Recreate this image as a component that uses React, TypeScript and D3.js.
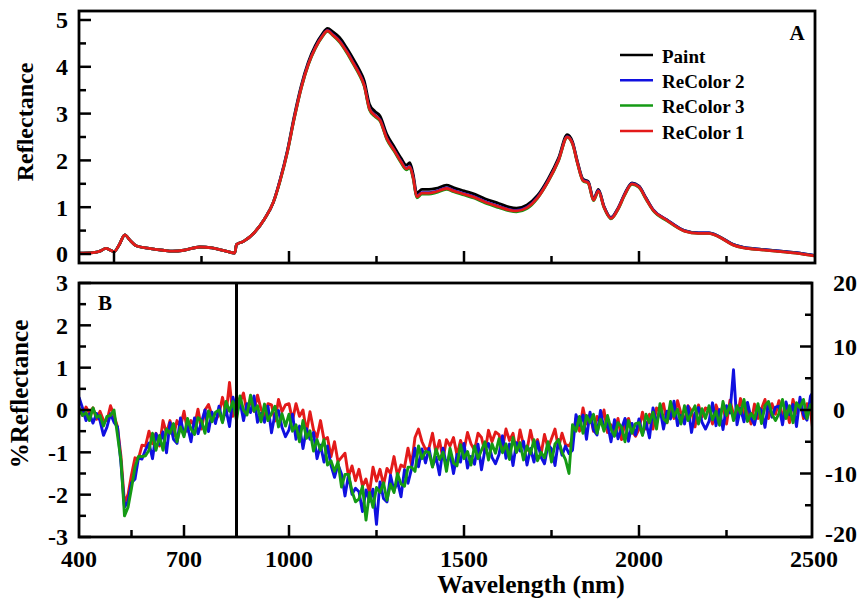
import React from "react";
import * as d3 from "d3";

// ---------- Panel A data ----------
const wavelengthsA = [400,440,460,477,490,500,515,531,545,565,600,640,668,700,745,780,820,845,850,870,900,930,955,975,995,1015,1035,1055,1075,1095,1110,1125,1145,1165,1185,1200,1215,1230,1245,1260,1280,1300,1320,1335,1345,1355,1365,1380,1400,1420,1450,1470,1500,1530,1560,1600,1630,1650,1680,1710,1740,1770,1795,1810,1825,1840,1855,1870,1884,1900,1920,1940,1960,1980,2000,2020,2040,2080,2130,2170,2200,2230,2270,2300,2350,2420,2460,2500];

const paintA = [0.02,0.03,0.06,0.12,0.08,0.05,0.2,0.41,0.3,0.17,0.12,0.08,0.06,0.08,0.15,0.13,0.06,0.02,0.2,0.27,0.45,0.75,1.1,1.6,2.2,2.95,3.6,4.1,4.45,4.7,4.82,4.75,4.62,4.4,4.15,3.95,3.7,3.2,3.05,2.95,2.55,2.3,2.05,1.9,1.95,1.7,1.3,1.38,1.38,1.4,1.47,1.42,1.35,1.28,1.18,1.08,1.0,0.98,1.05,1.25,1.6,2.05,2.55,2.4,1.95,1.6,1.55,1.18,1.38,1.02,0.78,0.98,1.3,1.52,1.45,1.2,0.95,0.73,0.5,0.45,0.45,0.37,0.2,0.14,0.1,0.05,0.02,-0.03];

const recolor2A = [0.02,0.03,0.06,0.12,0.08,0.05,0.2,0.41,0.3,0.17,0.12,0.08,0.06,0.08,0.15,0.13,0.06,0.02,0.2,0.27,0.45,0.75,1.1,1.59,2.18,2.91,3.56,4.06,4.41,4.66,4.78,4.69,4.55,4.33,4.07,3.87,3.61,3.11,2.97,2.87,2.47,2.23,1.98,1.83,1.87,1.63,1.23,1.31,1.31,1.34,1.41,1.36,1.29,1.22,1.12,1.02,0.95,0.93,1.0,1.21,1.56,2.01,2.51,2.37,1.93,1.58,1.53,1.16,1.36,1.01,0.77,0.97,1.29,1.51,1.44,1.19,0.95,0.73,0.5,0.45,0.45,0.37,0.2,0.14,0.1,0.05,0.02,-0.03];

const recolor3A = [0.02,0.03,0.06,0.12,0.08,0.05,0.2,0.41,0.3,0.17,0.12,0.08,0.06,0.08,0.15,0.13,0.06,0.02,0.2,0.27,0.45,0.75,1.1,1.57,2.16,2.89,3.54,4.04,4.39,4.64,4.76,4.67,4.52,4.3,4.04,3.84,3.58,3.08,2.94,2.84,2.44,2.2,1.95,1.8,1.84,1.6,1.2,1.28,1.28,1.31,1.38,1.33,1.26,1.19,1.09,0.99,0.92,0.9,0.97,1.19,1.54,1.99,2.49,2.35,1.91,1.56,1.51,1.14,1.34,0.99,0.75,0.95,1.27,1.49,1.42,1.17,0.93,0.71,0.49,0.44,0.44,0.36,0.19,0.13,0.09,0.04,0.01,-0.04];

const recolor1A = [0.02,0.03,0.06,0.12,0.08,0.05,0.2,0.41,0.3,0.17,0.12,0.08,0.06,0.08,0.15,0.13,0.06,0.02,0.2,0.27,0.45,0.75,1.1,1.58,2.17,2.9,3.55,4.05,4.4,4.65,4.77,4.68,4.54,4.32,4.06,3.86,3.6,3.1,2.96,2.86,2.46,2.22,1.97,1.82,1.86,1.62,1.22,1.3,1.3,1.33,1.4,1.35,1.28,1.21,1.11,1.01,0.94,0.92,0.99,1.2,1.55,2.0,2.5,2.36,1.92,1.57,1.52,1.15,1.35,1.0,0.76,0.96,1.28,1.5,1.43,1.18,0.94,0.72,0.49,0.44,0.44,0.36,0.19,0.13,0.09,0.04,0.01,-0.04];

// ---------- Panel B data (%Reflectance difference), 10 nm grid ----------
const wavelengthsB = d3.range(400, 2501, 10);

const recolor1B = [
  0.05,-0.13,0.07,-0.08,0.05,-0.22,-0.03,-0.25,-0.25,0.1,-0.13,-0.4,-1.1,-2.2,-2.0,-1.53,-1.13,-1.15,-0.83,-0.85,
  -0.5,-0.8,-0.55,-0.85,-0.25,-0.55,-0.25,-0.62,-0.25,-0.4,-0.03,-0.5,-0.25,-0.38,0.02,-0.45,0.0,0.13,-0.13,-0.25,
  -0.1,0.3,-0.1,0.65,-0.15,0.3,0.18,0.4,-0.07,0.25,-0.03,0.35,0.02,-0.16,0.15,0.12,-0.26,0.25,-0.04,0.12,
  0.15,-0.25,0.15,-0.15,0.0,-0.52,-0.04,-0.47,-0.65,-0.25,-0.7,-0.65,-1.1,-0.75,-1.22,-1.12,-1.02,-1.57,-1.32,-1.67,
  -1.4,-1.8,-1.63,-1.95,-1.35,-1.68,-1.4,-1.77,-1.38,-1.5,-1.1,-1.55,-1.3,-1.35,-0.9,-1.3,-0.65,-0.45,-0.75,-0.93,
  -0.9,-0.55,-1.02,-0.72,-1.15,-0.7,-0.85,-0.65,-1.07,-0.72,-0.95,-0.53,-0.8,-0.95,-0.55,-0.65,-1.0,-0.48,-0.75,-0.52,
  -0.58,-0.91,-0.45,-0.72,-0.55,-1.0,-0.47,-0.83,-0.95,-0.48,-0.85,-0.7,-1.05,-0.58,-0.9,-0.68,-0.45,-0.9,-0.55,-0.82,
  -0.85,-0.7,-0.2,-0.5,0.05,-0.33,-0.1,-0.5,-0.15,-0.32,0.0,-0.53,-0.35,-0.52,-0.2,-0.7,-0.3,-0.2,-0.5,-0.62,
  -0.45,-0.05,-0.45,-0.1,-0.45,0.05,-0.05,0.15,-0.3,0.05,-0.2,0.22,-0.08,-0.25,0.1,-0.02,-0.4,0.12,-0.17,0.05,
  0.0,-0.33,0.12,-0.11,0.1,-0.33,0.23,-0.1,-0.2,0.27,-0.1,0.03,-0.33,0.14,-0.2,0.03,0.25,-0.2,0.15,-0.1,
  0.22,-0.15,0.05,-0.3,0.25,-0.08,0.2,-0.2,0.15,-0.03,-0.7,
];

const recolor2B = [
  0.3,0.05,-0.25,-0.09,-0.31,-0.08,-0.25,-0.6,-0.4,-0.09,-0.29,-0.4,-1.28,-2.3,-2.16,-1.72,-1.63,-1.13,-1.16,-0.94,
  -0.78,-1.15,-0.56,-0.81,-0.52,-1.01,-0.3,-0.69,-0.79,-0.19,-0.59,-0.38,-0.75,-0.19,-0.56,-0.29,0.0,-0.51,-0.05,-0.32,
  0.09,-0.28,0.01,-0.39,0.3,-0.12,0.21,-0.25,0.15,-0.06,0.33,-0.29,-0.08,-0.29,0.09,-0.54,-0.09,-0.01,-0.41,-0.63,
  -0.47,-0.1,-0.69,-0.38,-0.91,-0.44,-0.69,-0.53,-1.15,-0.83,-1.23,-0.85,-1.31,-1.59,-1.29,-1.51,-2.03,-1.53,-1.99,-1.85,
  -1.93,-2.4,-1.89,-2.16,-1.87,-2.7,-1.7,-2.09,-2.17,-1.54,-1.91,-1.68,-2.05,-1.41,-1.73,-1.39,-0.9,-1.34,-0.92,-1.25,
  -0.91,-1.33,-1.11,-1.53,-0.9,-1.32,-1.02,-1.5,-1.05,-1.23,-0.79,-1.37,-1.1,-1.28,-0.81,-1.41,-0.93,-0.79,-1.12,-1.27,
  -1.05,-0.61,-1.14,-0.8,-1.31,-0.77,-0.97,-0.74,-1.3,-0.91,-1.23,-0.75,-1.11,-1.27,-0.82,-0.92,-1.31,-0.71,-1.07,-0.85,
  -1.03,-0.95,-0.11,-0.36,-0.12,-0.69,-0.05,-0.47,-0.59,-0.01,-0.46,-0.31,-0.75,-0.23,-0.68,-0.44,-0.2,-0.74,-0.32,-0.59,
  -0.21,-0.58,-0.29,-0.66,0.05,-0.32,0.03,-0.45,-0.03,-0.21,0.21,-0.37,-0.13,-0.33,0.09,-0.53,-0.08,0.06,-0.29,-0.45,
  -0.27,0.17,-0.37,0.01,-0.46,0.1,-0.07,0.95,-0.35,0.04,-0.28,0.18,-0.19,-0.35,0.08,-0.01,-0.41,0.19,-0.17,0.07,
  0.09,-0.35,0.19,-0.11,0.13,-0.39,0.3,-0.12,-0.24,0.33,0.45,
];

const recolor3B = [
  0.05,-0.13,-0.06,-0.25,0.05,-0.17,-0.13,-0.38,-0.15,-0.13,0.0,-0.6,-1.2,-2.5,-2.3,-1.85,-1.35,-1.1,-1.1,-1.08,
  -0.95,-0.55,-0.95,-0.6,-0.95,-0.45,-0.55,-0.32,-0.75,-0.4,-0.63,-0.2,-0.45,-0.58,-0.18,-0.25,-0.55,-0.02,-0.28,-0.05,
  0.0,-0.3,0.2,-0.03,0.2,-0.25,0.33,0.0,-0.12,0.35,-0.03,0.1,-0.28,0.14,-0.25,-0.08,0.09,-0.4,-0.09,-0.38,
  -0.1,-0.5,-0.35,-0.75,-0.25,-0.67,-0.49,-0.97,-0.7,-0.95,-0.7,-1.3,-1.2,-1.45,-1.22,-1.82,-1.52,-1.52,-1.92,-2.17,
  -2.1,-1.8,-2.6,-1.95,-2.3,-1.83,-1.95,-1.72,-2.13,-1.75,-1.95,-1.5,-1.75,-1.8,-1.35,-1.35,-1.45,-0.85,-1.15,-0.98,
  -1.0,-1.35,-0.92,-1.17,-1.0,-1.45,-0.9,-1.25,-1.32,-0.82,-1.15,-0.98,-1.3,-0.85,-1.15,-0.95,-0.75,-1.18,-0.8,-1.02,
  -0.68,-1.01,-0.8,-1.17,-0.65,-1.0,-0.77,-1.18,-0.85,-1.03,-0.7,-1.2,-1.0,-1.13,-0.75,-1.23,-0.8,-0.7,-1.0,-1.17,
  -1.5,-0.35,-0.5,-0.15,-0.55,-0.13,-0.3,-0.1,-0.55,-0.22,-0.5,-0.13,-0.45,-0.62,-0.3,-0.4,-0.75,-0.25,-0.55,-0.32,
  -0.3,-0.6,-0.1,-0.3,-0.05,-0.45,0.15,-0.2,-0.3,0.2,-0.15,0.02,-0.33,0.1,-0.25,-0.07,0.1,-0.33,0.03,-0.2,
  0.1,-0.23,-0.03,-0.36,0.2,-0.13,0.13,-0.25,0.1,-0.08,0.25,-0.27,-0.08,-0.21,0.15,-0.32,0.1,0.2,-0.1,-0.25,
  -0.08,0.25,-0.2,0.1,-0.3,0.17,0.05,0.25,-0.2,0.12,0.1,
];

// ---------- ticks / labels ----------
const xTickLabels = [400, 700, 1000, 1500, 2000, 2500];
const xMajorA = [500, 1000, 1500, 2000];
const xMinorA = [750, 1250, 1750, 2250];
const xMajorB = [700, 1000, 1500, 2000];
const xMinorB = [550, 1250, 1750, 2250];
const yTicksA = [0, 1, 2, 3, 4, 5];
const yMinorA = [0.5, 1.5, 2.5, 3.5, 4.5];
const yTicksB = [-3, -2, -1, 0, 1, 2, 3];
const yMinorB = [-2.5, -1.5, -0.5, 0.5, 1.5, 2.5];
const yTicksR = [-20, -10, 0, 10, 20];
const yMinorR = [-15, -5, 5, 15];
const markerWavelength = 850;

const legendItems = [
  { name: "Paint", color: "#000000" },
  { name: "ReColor 2", color: "#1010e0" },
  { name: "ReColor 3", color: "#149a14" },
  { name: "ReColor 1", color: "#e31a1a" },
];

const FONT = "'Liberation Serif', 'Times New Roman', Times, serif";

export default function App() {
  const W = 858, H = 608;
  const A = { l: 79, r: 815, t: 11, b: 263 };
  const B = { l: 79, r: 812, t: 283, b: 537 };

  const x = d3.scaleLinear().domain([400, 2500]).range([79, 814]);
  const yA = d3.scaleLinear().domain([0, 5]).range([254, 20]);
  const yB = d3.scaleLinear().domain([-3, 3]).range([B.b, B.t]);
  const yR = d3.scaleLinear().domain([-20, 20]).range([B.b, B.t]);

  const mk = (xs: number[], ys: number[]) =>
    xs.map((w, i) => [w, ys[i]] as [number, number]).filter((p) => p[1] !== undefined);

  const lineA = d3.line<[number, number]>().x((d) => x(d[0])).y((d) => yA(d[1])).curve(d3.curveMonotoneX);
  const lineB = d3.line<[number, number]>().x((d) => x(d[0])).y((d) => yB(d[1]));

  const seriesA = [
    { d: paintA, c: legendItems[0].color },
    { d: recolor2A, c: legendItems[1].color },
    { d: recolor3A, c: legendItems[2].color },
    { d: recolor1A, c: legendItems[3].color },
  ];
  const seriesB = [
    { d: recolor1B, c: legendItems[3].color },
    { d: recolor2B, c: legendItems[1].color },
    { d: recolor3B, c: legendItems[2].color },
  ];

  const tickStyle = { stroke: "#000", strokeWidth: 2.5 };
  const labelStyle: React.CSSProperties = { fontFamily: FONT, fontWeight: "bold", fontSize: 24 };

  return (
    <svg width={W} height={H} style={{ position: "fixed", left: 0, top: 0, background: "#fff" }}>
      <defs>
        <clipPath id="clipA"><rect x={A.l} y={A.t} width={A.r - A.l} height={A.b - A.t} /></clipPath>
        <clipPath id="clipB"><rect x={B.l} y={B.t} width={B.r - B.l} height={B.b - B.t} /></clipPath>
      </defs>
      <rect x={0} y={0} width={W} height={H} fill="#fff" />

      {/* Panel A lines */}
      <g clipPath="url(#clipA)">
        {seriesA.map((s, i) => (
          <path key={i} d={lineA(mk(wavelengthsA, s.d)) || ""} fill="none" stroke={s.c} strokeWidth={2.8} strokeLinejoin="round" />
        ))}
      </g>

      {/* Panel B lines */}
      <g clipPath="url(#clipB)">
        {seriesB.map((s, i) => (
          <path key={i} d={lineB(mk(wavelengthsB, s.d)) || ""} fill="none" stroke={s.c} strokeWidth={2.9} strokeLinejoin="round" />
        ))}
      </g>
      <line x1={x(markerWavelength)} x2={x(markerWavelength)} y1={B.t} y2={B.b} stroke="#000" strokeWidth={3} />

      {/* Frames */}
      <rect x={A.l} y={A.t} width={A.r - A.l} height={A.b - A.t} fill="none" stroke="#000" strokeWidth={2.8} />
      <rect x={B.l} y={B.t} width={B.r - B.l} height={B.b - B.t} fill="none" stroke="#000" strokeWidth={2.8} />

      {/* Panel A ticks */}
      {yTicksA.map((v) => <line key={"ya" + v} x1={A.l} x2={A.l + 12} y1={yA(v)} y2={yA(v)} {...tickStyle} />)}
      {yMinorA.map((v) => <line key={"yam" + v} x1={A.l} x2={A.l + 7} y1={yA(v)} y2={yA(v)} {...tickStyle} />)}
      {xMajorA.map((v) => <line key={"xa" + v} x1={x(v)} x2={x(v)} y1={A.b} y2={A.b - 12} {...tickStyle} />)}
      {xMinorA.map((v) => <line key={"xam" + v} x1={x(v)} x2={x(v)} y1={A.b} y2={A.b - 7} {...tickStyle} />)}
      {yTicksA.map((v) => (
        <text key={"yal" + v} x={68} y={yA(v)} dy="0.35em" textAnchor="end" style={labelStyle}>{v}</text>
      ))}

      {/* Panel B ticks */}
      {yTicksB.map((v) => <line key={"yb" + v} x1={B.l} x2={B.l + 12} y1={yB(v)} y2={yB(v)} {...tickStyle} />)}
      {yMinorB.map((v) => <line key={"ybm" + v} x1={B.l} x2={B.l + 7} y1={yB(v)} y2={yB(v)} {...tickStyle} />)}
      {yTicksR.map((v) => <line key={"yr" + v} x1={B.r} x2={B.r - 12} y1={yR(v)} y2={yR(v)} {...tickStyle} />)}
      {yMinorR.map((v) => <line key={"yrm" + v} x1={B.r} x2={B.r - 7} y1={yR(v)} y2={yR(v)} {...tickStyle} />)}
      {xMajorB.map((v) => <line key={"xb" + v} x1={x(v)} x2={x(v)} y1={B.b} y2={B.b - 12} {...tickStyle} />)}
      {xMinorB.map((v) => <line key={"xbm" + v} x1={x(v)} x2={x(v)} y1={B.b} y2={B.b - 7} {...tickStyle} />)}
      {yTicksB.map((v) => (
        <text key={"ybl" + v} x={68} y={yB(v)} dy="0.35em" textAnchor="end" style={labelStyle}>{v < 0 ? "-" + Math.abs(v) : v}</text>
      ))}
      {yTicksR.map((v) => (
        <text key={"yrl" + v} x={v < 0 ? 825 : 833} y={yR(v) + (v === -20 ? -3 : 0)} dy="0.35em" textAnchor="start" style={labelStyle}>{v < 0 ? "-" + Math.abs(v) : v}</text>
      ))}
      {xTickLabels.map((v) => (
        <text key={"xl" + v} x={x(v)} y={559} dy="0.35em" textAnchor="middle" style={labelStyle}>{v}</text>
      ))}

      {/* Axis titles */}
      <text x={531} y={593} textAnchor="middle" style={{ ...labelStyle, fontSize: 25.5 }}>Wavelength (nm)</text>
      <text transform="translate(33,122) rotate(-90)" textAnchor="middle" style={{ ...labelStyle, fontSize: 24 }}>Reflectance</text>
      <text transform="translate(28,394) rotate(-90)" textAnchor="middle" style={{ ...labelStyle, fontSize: 25 }}>%Reflectance</text>

      {/* Panel letters */}
      <text x={797} y={33} dy="0.35em" textAnchor="middle" style={{ ...labelStyle, fontSize: 21 }}>A</text>
      <text x={105} y={303} dy="0.35em" textAnchor="middle" style={{ ...labelStyle, fontSize: 21 }}>B</text>

      {/* Legend */}
      {legendItems.map((it, i) => {
        const yy = 55 + i * 25.3;
        return (
          <g key={it.name}>
            <line x1={620} x2={653} y1={yy} y2={yy} stroke={it.color} strokeWidth={2.5} />
            <text x={662} y={yy + 1} dy="0.35em" style={{ ...labelStyle, fontSize: 19 }}>{it.name}</text>
          </g>
        );
      })}
    </svg>
  );
}
